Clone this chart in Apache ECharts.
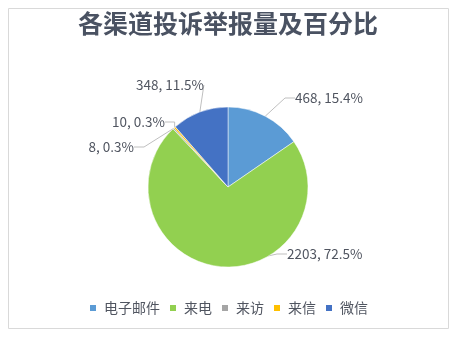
<!DOCTYPE html>
<html><head><meta charset="utf-8">
<script src="https://cdn.jsdelivr.net/npm/echarts@6/dist/echarts.min.js"></script>
<style>html,body{margin:0;padding:0;background:#fff}#c{width:456px;height:337px}</style>
</head><body><div id="c"></div>
<script>
var titleText = '各渠道投诉举报量及百分比';
var categories = ['电子邮件', '来电', '来访', '来信', '微信'];
var values = [468, 2203, 8, 10, 348];
var colors = ['#5B9BD5', '#92D050', '#A5A5A5', '#FFC000', '#4472C4'];

// label anchor positions (layout only)
var labelPos = [
  {x: 295, y: 98, align: 'left'},
  {x: 287, y: 254, align: 'left'},
  {x: 134, y: 147, align: 'right'},
  {x: 112, y: 122, align: 'left'},
  {x: 136, y: 85, align: 'left'}
];

var chart = echarts.init(document.getElementById('c'), null, {renderer: 'canvas'});
var font = '"Noto Sans CJK SC", "Noto Sans", sans-serif';
chart.setOption({
  animation: false,
  textStyle: {fontFamily: font},
  graphic: [{
    type: 'rect', shape: {x: 8.5, y: 8.5, width: 440, height: 320},
    style: {fill: 'none', stroke: '#D9D9D9', lineWidth: 1}, silent: true
  }],
  title: {
    text: titleText, left: 'center', top: 6,
    textStyle: {fontFamily: font, fontSize: 25, fontWeight: 'bold', color: '#4A5262'}
  },
  legend: {
    data: categories, bottom: 17, left: 'center',
    itemWidth: 8, itemHeight: 8, itemGap: 8, icon: 'rect',
    textStyle: {fontSize: 14, color: '#505560', padding: [0, 0, 0, 2]}
  },
  series: [{
    type: 'pie',
    center: [228, 187], radius: 80,
    startAngle: 90, clockwise: true,
    percentPrecision: 1,
    avoidLabelOverlap: false,
    itemStyle: {borderColor: '#fff', borderWidth: 0.5},
    label: {
      show: true, formatter: '{c}, {d}%', fontSize: 13.5, color: '#505560',
      fontFamily: font
    },
    labelLine: {show: true, length: 15, length2: 10, lineStyle: {color: '#BFBFBF', width: 1}},
    labelLayout: function (p) {
      var lp = labelPos[p.dataIndex];
      return {x: lp.x, y: lp.y, align: lp.align, verticalAlign: 'middle', hideOverlap: false, moveOverlap: null};
    },
    data: categories.map(function (n, i) {
      return {name: n, value: values[i], itemStyle: {color: colors[i]}};
    })
  }]
});
</script></body></html>
